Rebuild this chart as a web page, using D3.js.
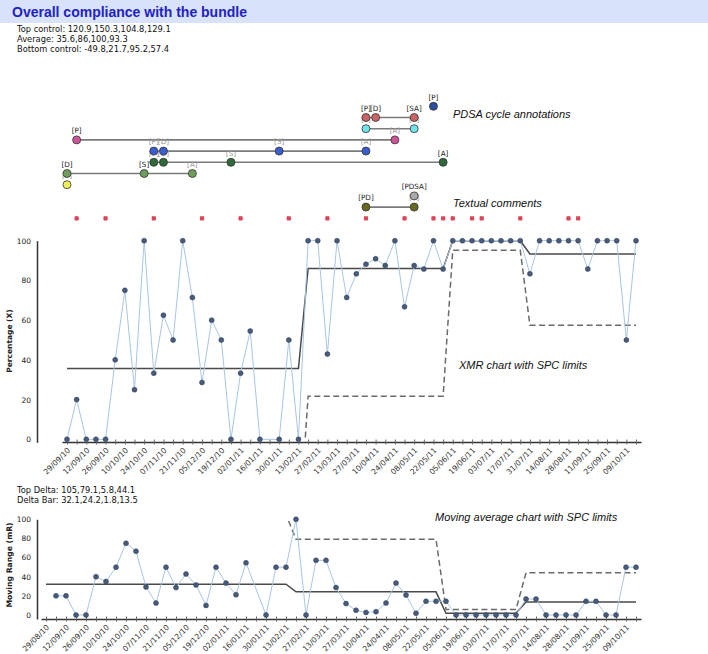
<!DOCTYPE html>
<html><head><meta charset="utf-8">
<script src="https://cdn.jsdelivr.net/npm/d3@7"></script>
<style>body{margin:0;background:#fff} svg{display:block}</style>
</head><body><svg id="c" width="708" height="654"></svg>
<script>
// ---------------- DATA ----------------
const xValues = [0,20,0,0,0,40,75,25,100,33.3,62.5,50,100,71.4,28.6,60,50,0,33.3,54.5,
  0,null,0,50,0,100,100,42.9,100,71.4,83.3,88.2,90.9,87.5,100,66.7,87.5,85.7,100,85.7,
  100,100,100,100,100,100,100,100,83.3,100,100,100,100,100,85.7,100,100,100,50,100];
const mrValues = [null,20,20,0,0,40,35,50,75,66.7,29.2,12.5,50,28.6,42.8,31.4,10,50,33.3,21.2,
  54.5,null,0,50,50,100,0,57.1,57.1,28.6,11.9,4.9,2.7,3.4,12.5,33.3,20.8,1.8,14.3,14.3,
  14.3,0,0,0,0,0,0,0,16.7,16.7,0,0,0,0,14.3,14.3,0,0,50,50];
const phaseStarts = [0,25,40,48];
const topControl = [120.9,150.3,104.8,129.1];
const average = [35.6,86,100,93.3];
const bottomControl = [-49.8,21.7,95.2,57.4];
const topDelta = [105,79.1,5.8,44.1];
const deltaBar = [32.1,24.2,1.8,13.5];
const topTickLabels = ["29/09/10","12/09/10","26/09/10","10/10/10","24/10/10","07/11/10","21/11/10","05/12/10","19/12/10","02/01/11","16/01/11","30/01/11","13/02/11","27/02/11","13/03/11","27/03/11","10/04/11","24/04/11","08/05/11","22/05/11","05/06/11","19/06/11","03/07/11","17/07/11","31/07/11","14/08/11","28/08/11","11/09/11","25/09/11","09/10/11"];
const bottomTickLabels = ["29/08/10","12/09/10","26/09/10","10/10/10","24/10/10","07/11/10","21/11/10","05/12/10","19/12/10","02/01/11","16/01/11","30/01/11","13/02/11","27/02/11","13/03/11","27/03/11","10/04/11","24/04/11","08/05/11","22/05/11","05/06/11","19/06/11","03/07/11","17/07/11","31/07/11","14/08/11","28/08/11","11/09/11","25/09/11","09/10/11"];
const yTicks = [0,20,40,60,80,100];
// PDSA annotation rows (week index of each step)
const annoColors = ["#2b4f9c","#c96565","#72e2ea","#cc5599","#3a5ed2","#2f6a3a","#6f9e5b","#eeee55","#aaaaaa","#69691f"];
const annoPoints = [[38],[31,32,36],[31,36],[1,34],[9,10,22,31],[9,10,17,39],[0,8,13],[0],[36],[31,36]];
const annoLabels = [["[P]"],["[P]","[D]","[SA]"],["[P]","[A]"],["[P]","[A]"],["[P]","[D]","[S]","[A]"],["[P]","[D]","[S]","[A]"],["[D]","[S]","[A]"],["[P]"],["[PDSA]"],["[PD]","[A]"]];
const annoDark = [[1],[1,1,1],[0,0],[1,0],[0,0,0,0],[0,0,0,1],[1,1,0],[0],[1],[1,0]];
const commentWeeks = [1,4,9,14,18,23,27,31,35,38,39,40,42,43,47,52,53];

// ---------------- HELPERS ----------------
const svg = d3.select("#c");
const phaseOf = i => d3.bisectRight(phaseStarts, i) - 1;
const weeks = d3.range(xValues.length);
const F = "DejaVu Sans, Verdana, sans-serif";
const FS = "Liberation Sans, Arial, sans-serif";

// Title band
svg.append("rect").attr("x",0).attr("y",0).attr("width",708).attr("height",23).attr("fill","#d8e3fb");
svg.append("text").attr("x",12).attr("y",17).attr("font-family",FS).attr("font-weight","bold")
  .attr("font-size",14).attr("fill","#2121c4").text("Overall compliance with the bundle");
const info = [["Top control: ",topControl],["Average: ",average],["Bottom control: ",bottomControl]];
info.forEach((d,k)=>svg.append("text").attr("x",17).attr("y",32+k*10).attr("font-family",F)
  .attr("font-size",8.3).attr("fill","#111").text(d[0]+d[1].join(",")));

// ---------------- ANNOTATIONS ----------------
const xTop = d3.scaleLinear().domain([-0.518,59.518]).range([62,641]);
const rowY = d3.scaleLinear().domain([0,1]).range([106.3,117.5]);
const ga = svg.append("g");
annoPoints.forEach((pts,r)=>{
  if (pts.length>1) ga.append("line").attr("x1",xTop(pts[0])).attr("x2",xTop(pts[pts.length-1]))
    .attr("y1",rowY(r)).attr("y2",rowY(r)).attr("stroke","#7a7a7a").attr("stroke-width",1.6);
});
annoPoints.forEach((pts,r)=>{
  pts.forEach((w,j)=>ga.append("text").attr("x",xTop(w)).attr("y",rowY(r)-6.8)
    .attr("text-anchor","middle").attr("font-family",F).attr("font-size",7.2)
    .attr("fill",annoDark[r][j]?"#222":"#9a9a9a").text(annoLabels[r][j]));
});
annoPoints.forEach((pts,r)=>{
  pts.forEach(w=>ga.append("circle").attr("cx",xTop(w)).attr("cy",rowY(r)).attr("r",4)
    .attr("fill",annoColors[r]).attr("stroke","#333").attr("stroke-width",0.8));
});
ga.selectAll("path.cm").data(commentWeeks).join("path").attr("class","cm")
  .attr("transform",w=>`translate(${xTop(w)},${rowY(10)}) rotate(45)`)
  .attr("d",d3.symbol(d3.symbolCross,14)).attr("fill","#dd4456");
ga.selectAll("path.cm2").data(commentWeeks).join("path").attr("class","cm2")
  .attr("transform",w=>`translate(${xTop(w)},${rowY(10)})`)
  .attr("d",d3.symbol(d3.symbolCross,10)).attr("fill","#dd4456");
svg.append("text").attr("x",453).attr("y",118).attr("font-family",FS).attr("font-style","italic")
  .attr("font-size",11).attr("fill","#111").text("PDSA cycle annotations");
svg.append("text").attr("x",453).attr("y",207).attr("font-family",FS).attr("font-style","italic")
  .attr("font-size",11).attr("fill","#111").text("Textual comments");

// ---------------- GENERIC CHART ----------------
function chart(o){
  const g = svg.append("g");
  const x = o.x, y = o.y;
  const clipId = o.id+"clip";
  svg.append("defs").append("clipPath").attr("id",clipId).append("rect")
    .attr("x",0).attr("width",708).attr("y",y(100)).attr("height",y(0)-y(100));
  // axes
  const xa = g.append("g").attr("transform",`translate(0,${o.axisY})`)
    .call(d3.axisBottom(x).tickValues(weeks).tickSize(3).tickSizeOuter(0)
      .tickFormat(i=>i%2===0?o.labels[i/2]:""));
  xa.select(".domain").attr("stroke","#333").attr("stroke-width",1.5);
  xa.selectAll(".tick line").attr("y1",-2.5).attr("y2",2.5).attr("stroke","#666");
  xa.selectAll(".tick text").attr("x",-4).attr("y",6).attr("dy","0.35em")
    .attr("text-anchor","end").attr("transform","rotate(-45)")
    .attr("font-family",F).attr("font-size",7.6).attr("fill","#333");
  const ya = g.append("g").attr("transform","translate(37,0)")
    .call(d3.axisLeft(y).tickValues(yTicks).tickSize(0).tickPadding(6));
  ya.select(".domain").attr("stroke","#333").attr("stroke-width",1.5);
  ya.selectAll(".tick text").attr("font-family",F).attr("font-size",7.5).attr("fill","#222");
  g.append("text").attr("transform",`translate(12,${o.labelY}) rotate(-90)`).attr("text-anchor","middle")
    .attr("font-family",F).attr("font-weight","bold").attr("font-size",o.labelSize).attr("fill","#222").text(o.yLabel);
  // limit lines
  const line = d3.line().x(d=>x(d[0])).y(d=>y(d[1]));
  o.limits.forEach(L=>{
    g.append("path").attr("clip-path",`url(#${clipId})`)
      .attr("d",line(weeks.map(i=>[i,L.vals[phaseOf(i)]])))
      .attr("fill","none").attr("stroke",L.dash?"#6a6a6a":"#4a4a4a").attr("stroke-width",1.5)
      .attr("stroke-dasharray",L.dash?"6,3.5":null);
  });
  // data
  const pts = weeks.filter(i=>o.data[i]!=null).map(i=>[i,o.data[i]]);
  g.append("path").attr("d",line(pts)).attr("fill","none").attr("stroke","#a9c6e2").attr("stroke-width",1);
  g.selectAll("circle.p").data(pts).join("circle").attr("class","p")
    .attr("cx",d=>x(d[0])).attr("cy",d=>y(d[1])).attr("r",2.5)
    .attr("fill","#485a7a").attr("stroke","#33425c").attr("stroke-width",0.5);
  g.append("text").attr("x",o.title[0]).attr("y",o.title[1]).attr("font-family",FS).attr("font-style","italic")
    .attr("font-size",11).attr("fill","#111").text(o.title[2]);
}

chart({id:"x", x:xTop, y:d3.scaleLinear().domain([-1.5,100]).range([442.3,240.7]), axisY:442,
  labels:topTickLabels, data:xValues, yLabel:"Percentage (X)", labelY:341, labelSize:7.5,
  limits:[{vals:average},{vals:bottomControl,dash:true},{vals:topControl,dash:true}],
  title:[459,369,"XMR chart with SPC limits"]});

svg.append("text").attr("x",17).attr("y",493).attr("font-family",F).attr("font-size",8.3).attr("fill","#111")
  .text("Top Delta: "+topDelta.join(","));
svg.append("text").attr("x",17).attr("y",503).attr("font-family",F).attr("font-size",8.3).attr("fill","#111")
  .text("Delta Bar: "+deltaBar.join(","));

chart({id:"mr", x:d3.scaleLinear().domain([-0.5,59.5]).range([41,641]),
  y:d3.scaleLinear().domain([-4.2,100]).range([619,519.3]), axisY:619,
  labels:bottomTickLabels, data:mrValues, yLabel:"Moving Range (mR)", labelY:565, labelSize:7.7,
  limits:[{vals:deltaBar},{vals:topDelta,dash:true}],
  title:[435,521,"Moving average chart with SPC limits"]});
</script></body></html>
